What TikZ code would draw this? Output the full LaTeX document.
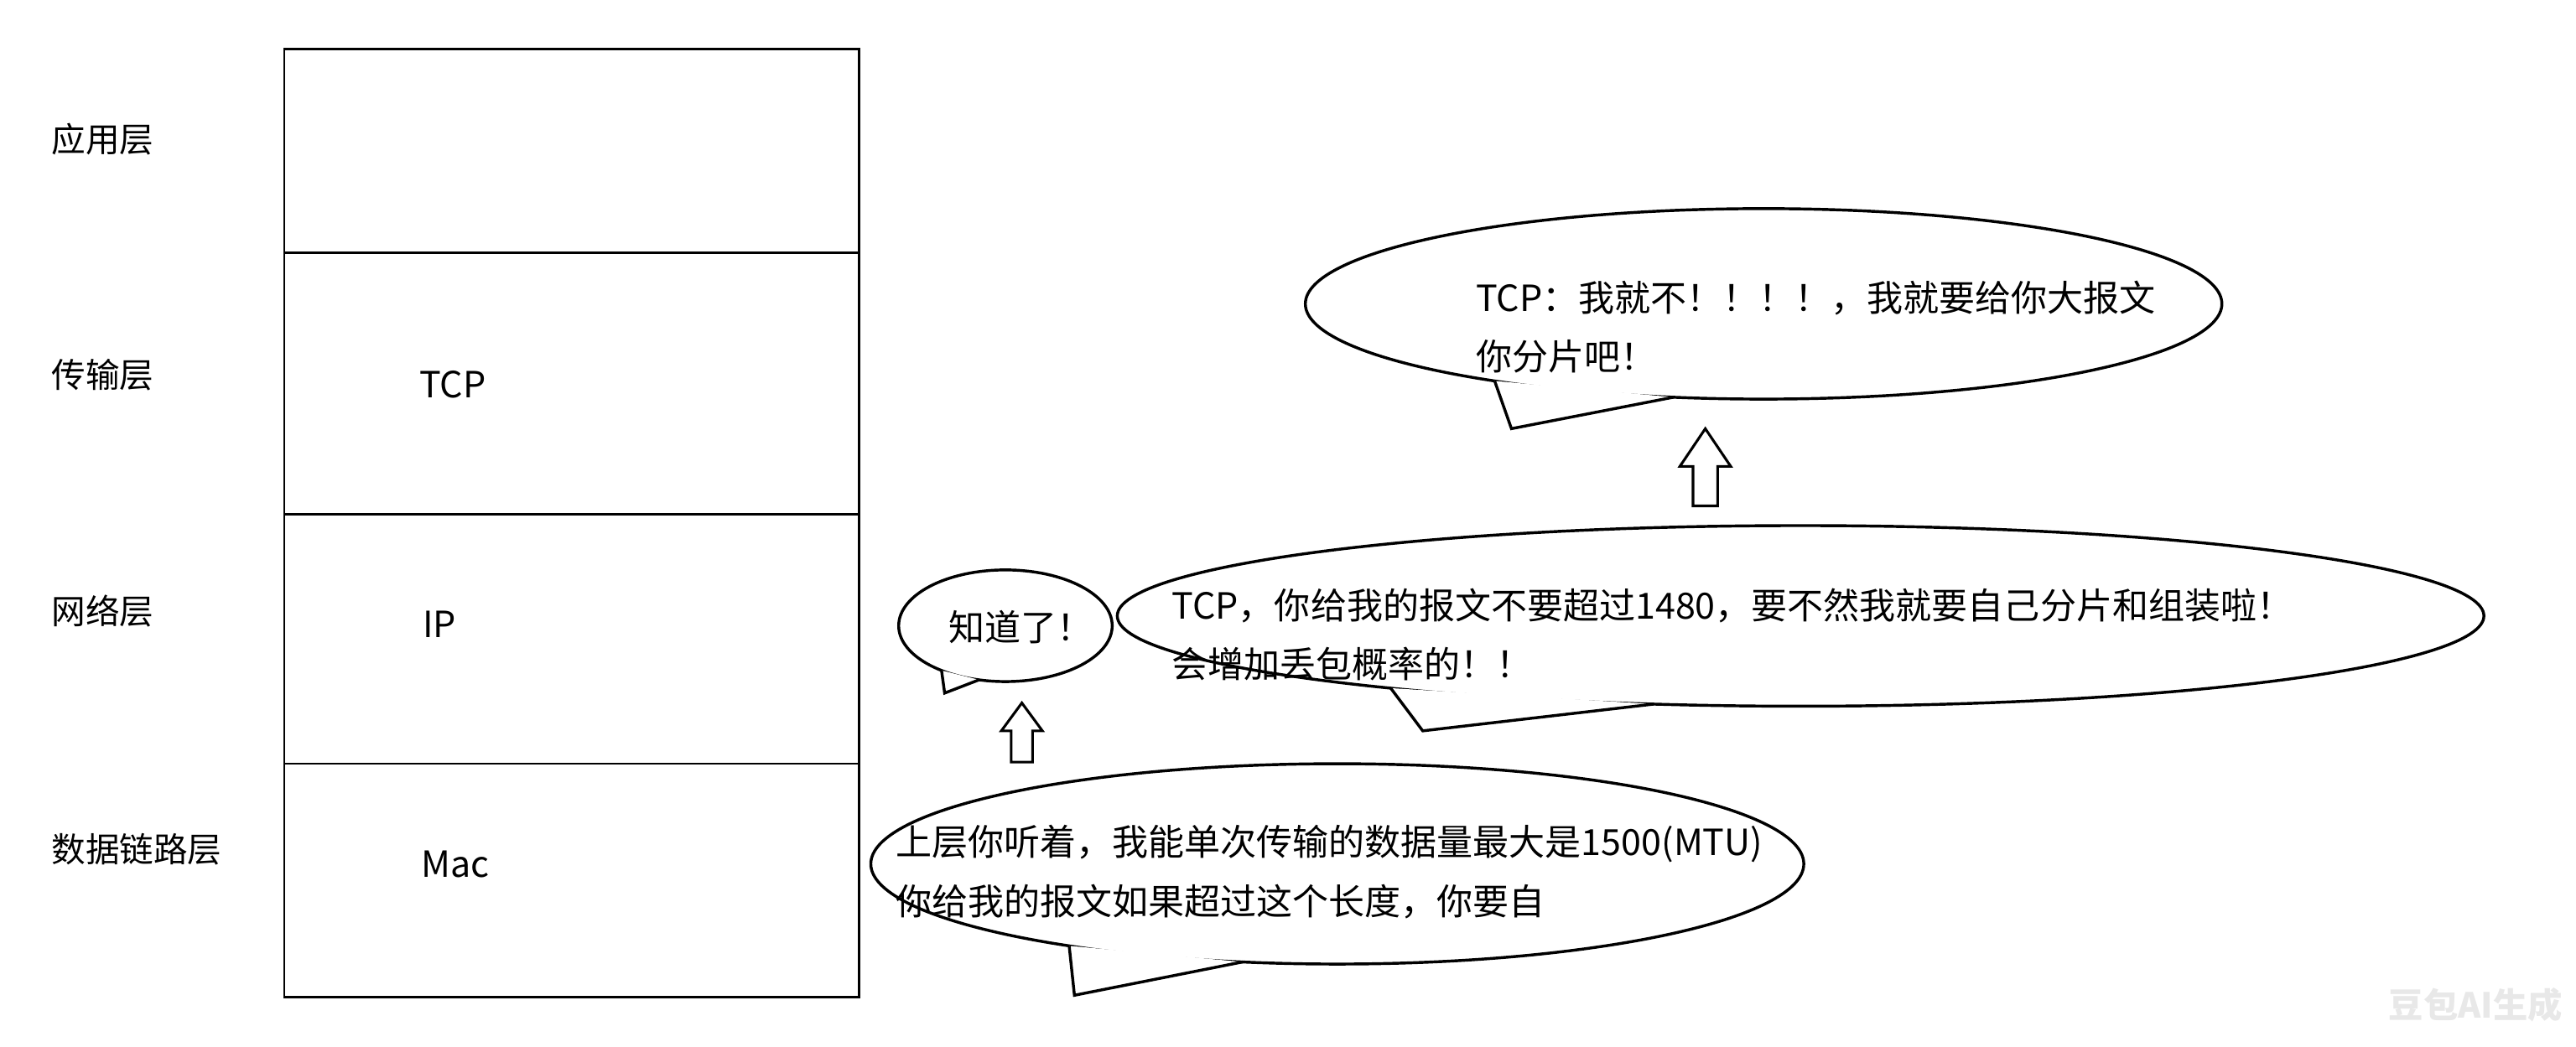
\documentclass[tikz,border=0pt]{standalone}
\usepackage{fontspec}
\setmainfont{Noto Sans CJK SC}
\usetikzlibrary{shapes.geometric}

\begin{document}
\begin{tikzpicture}[x=0.02cm, y={(0cm,-0.02cm)},
  every node/.style={font=\fontsize{12.5}{20.5}\selectfont},
  layerbox/.style={draw, line width=0.8pt},
  layer/.style={anchor=west, inner sep=0pt},
  levelname/.style={layer, font=\fontsize{11.8}{14}\selectfont},
  bubble/.style={draw, ellipse, line width=1pt, inner sep=0pt, outer sep=0pt},
  talk/.style={anchor=west, align=left, inner sep=0pt},
  tail/.style={line width=1pt, line join=miter},
  blockarrow/.style={draw, line width=0.9pt}]

\useasboundingbox (0,0) rectangle (1568,637);

% стек уровней
\foreach \ya/\yb in {30/154,154/313,313/465,465/607}
  \draw[layerbox] (173,\ya) rectangle (523,\yb);

\node[levelname] (app)  at (31,85)  {应用层};
\node[levelname] (trans) at (31,228) {传输层};
\node[levelname] (net)  at (31,372) {网络层};
\node[levelname] (link) at (31,517) {数据链路层};

\node[layer] (tcp) at (255,234) {TCP};
\node[layer] (ip)  at (257,380) {IP};
\node[layer] (mac) at (256,526) {Mac};

% пузыри с репликами
\node[bubble, minimum width=11.36cm, minimum height=2.44cm] (mtu) at (814,526) {};
\coordinate (mtutip) at (654,606);
\fill[white] (mtu.197) -- (mtutip) -- (mtu.226) -- cycle;
\draw[tail] (mtu.197) -- (mtutip) -- (mtu.226);

\node[bubble, minimum width=2.6cm, minimum height=1.36cm] (ack) at (612,381) {};
\coordinate (acktip) at (575,422);
\fill[white] (ack.215) -- (acktip) -- (ack.244) -- cycle;
\draw[tail] (ack.215) -- (acktip) -- (ack.244);

\node[bubble, minimum width=16.64cm, minimum height=2.2cm] (warn) at (1096,375) {};
\coordinate (warntip) at (866,445);
\fill[white] (warn.190.5) -- (warntip) -- (warn.211.6) -- cycle;
\draw[tail] (warn.190.5) -- (warntip) -- (warn.211.6);

\node[bubble, minimum width=11.16cm, minimum height=2.32cm] (refuse) at (1073.5,185) {};
\coordinate (refusetip) at (920,261);
\fill[white] (refuse.196.6) -- (refusetip) -- (refuse.226) -- cycle;
\draw[tail] (refuse.196.6) -- (refusetip) -- (refuse.226);

\node[talk] (mtutext) at (545,531) {上层你听着，我能单次传输的数据量最大是1500(MTU)\\你给我的报文如果超过这个长度，你要自};
\node[talk] (acktext) at (577,382) {知道了！};
\node[talk] (warntext) at (713,386.5) {TCP，你给我的报文不要超过1480，要不然我就要自己分片和组装啦！\\会增加丢包概率的！！};
\node[talk] (refusetext) at (898,199) {TCP：我就不！！！！，我就要给你大报文\\你分片吧！};

% стрелки вверх
\foreach \x/\yb/\yh/\yt/\s/\h in {622/464/445/428/6.5/12.5, 1038/308/284/261/7.5/15.5}
  \draw[blockarrow] (\x-\s,\yb) -- (\x-\s,\yh) -- (\x-\h,\yh) -- (\x,\yt)
    -- (\x+\h,\yh) -- (\x+\s,\yh) -- (\x+\s,\yb) -- cycle;

\node[font=\bfseries\fontsize{12}{12}\selectfont, text=gray!18, anchor=east, inner sep=0pt] (mark) at (1560,612) {豆包AI生成};

\end{tikzpicture}
\end{document}
